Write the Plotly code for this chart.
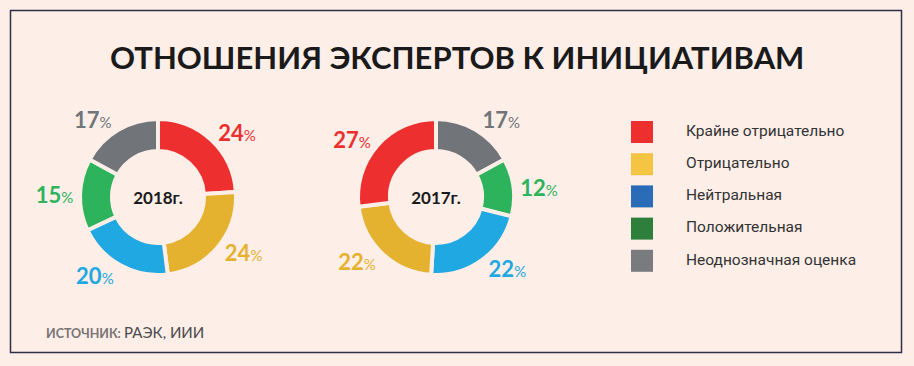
import plotly.graph_objects as go

# ---- data ----
categories = ["Крайне отрицательно", "Отрицательно", "Нейтральная", "Положительная", "Неоднозначная оценка"]
values_2018 = [24, 24, 20, 15, 17]
values_2017 = [27, 22, 22, 12, 17]
year_labels = ["2018г.", "2017г."]
slice_colors = ["#ee2f2f", "#e5b22f", "#1fa8e1", "#2cb35c", "#717579"]
legend_colors = ["#ee2f2f", "#f6c443", "#2b6cb8", "#2f7f3c", "#7a7b7f"]
title_text = "ОТНОШЕНИЯ ЭКСПЕРТОВ К ИНИЦИАТИВАМ"
source_bold = "ИСТОЧНИК:"
source_text = "РАЭК, ИИИ"

W, H = 914, 366
BG = "#fdeee8"

def dom(cx, cy, r):
    return dict(x=[(cx - r) / W, (cx + r) / W], y=[(H - cy - r) / H, (H - cy + r) / H])

tmpl = "<b>%{value}</b><span style='font-size:15px;font-weight:normal'>%</span>"

fig = go.Figure()
# 2018 runs clockwise from 12 o'clock in category order; 2017 runs the other way round
for labs, vals, cols, year, cx in [
        (categories, values_2018, slice_colors, year_labels[0], 158),
        (categories[::-1], values_2017[::-1], slice_colors[::-1], year_labels[1], 436)]:
    fig.add_trace(go.Pie(
        labels=labs, values=vals, sort=False, direction="clockwise", rotation=0,
        hole=0.59, domain=dom(cx, 197, 78),
        marker=dict(colors=cols, line=dict(color=BG, width=4)),
        texttemplate=tmpl, textposition="outside",
        textfont=dict(family="Lato", size=22, color=cols),
        title=dict(text="<b>" + year + "</b>", position="middle center",
                   font=dict(family="Lato", size=17, color="#1a1a1a")),
        showlegend=False, hoverinfo="label+percent",
    ))

ys = [132 + 32.2 * i for i in range(len(categories))]
fig.add_trace(go.Scatter(
    x=[642] * len(categories), y=ys,
    mode="markers", marker=dict(symbol="square", size=22, color=legend_colors),
    showlegend=False, hoverinfo="skip"))
fig.add_trace(go.Scatter(
    x=[686] * len(categories), y=ys,
    mode="text", text=categories, textposition="middle right",
    textfont=dict(family="Roboto", size=15.5, color="#333333"),
    showlegend=False, hoverinfo="skip"))

fig.add_annotation(x=W / 2, y=57, text="<b>" + title_text + "</b>", showarrow=False,
                   xref="x", yref="y", xanchor="center", yanchor="middle",
                   font=dict(family="Lato", size=31, color="#1a1a1a", weight=900))
fig.add_annotation(x=44, y=332, text="<b>" + source_bold + "</b> " +
                   "<span style='font-size:15px;color:#4a4a4a'>" + source_text + "</span>",
                   showarrow=False, xref="x", yref="y", xanchor="left", yanchor="middle",
                   font=dict(family="Lato", size=12.5, color="#7a7474"))

fig.add_shape(type="rect", xref="x", yref="y", x0=10.5, y0=10.5, x1=901.5, y1=352.5,
              line=dict(color="#2f3045", width=1.5), layer="below")

fig.update_layout(
    width=W, height=H, margin=dict(l=0, r=0, t=0, b=0),
    paper_bgcolor=BG, plot_bgcolor=BG,
    xaxis=dict(range=[0, W], visible=False, fixedrange=True),
    yaxis=dict(range=[H, 0], visible=False, fixedrange=True),
)
fig.write_html("out.html", config={"displayModeBar": False},
               post_script="document.body.style.margin='0';document.body.style.background='" + BG + "';")
